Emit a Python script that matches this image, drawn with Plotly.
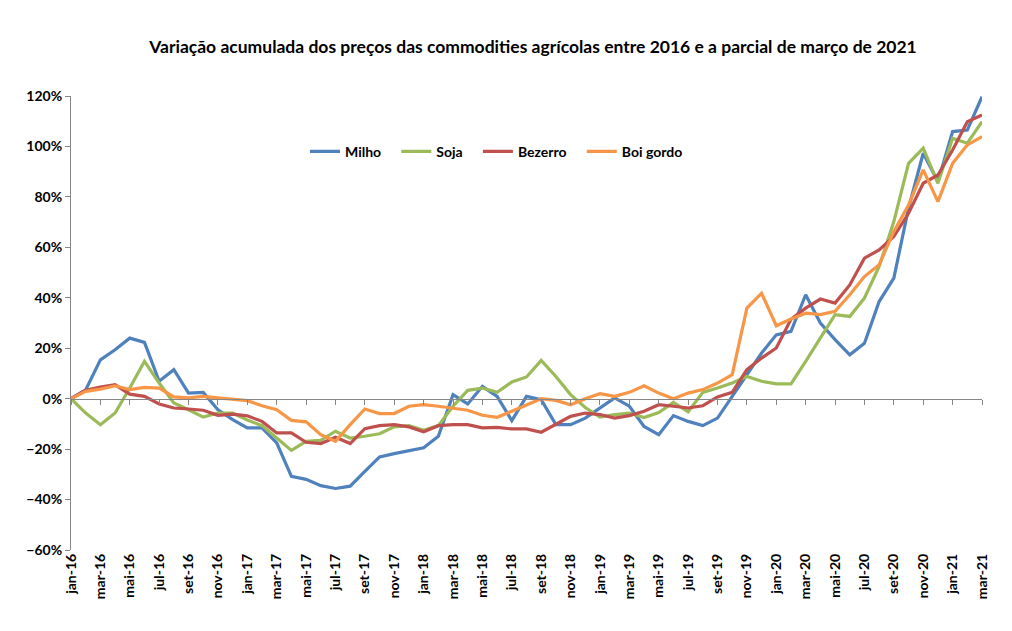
import plotly.graph_objects as go

months = ["jan", "fev", "mar", "abr", "mai", "jun", "jul", "ago", "set", "out", "nov", "dez"]
categories = [f"{m}-{y}" for y in ["16", "17", "18", "19", "20", "21"] for m in months][:63]

milho = [0, 3.5, 15.4, 19.4, 24, 22.3, 6.9, 11.5, 2.2, 2.5, -4.4, -8.3,
         -11.6, -11.6, -17.5, -30.8, -32, -34.5, -35.6, -34.7, -28.8, -23.1, -21.8, -20.5,
         -19.5, -14.9, 1.6, -2.1, 4.9, 0.9, -8.7, 0.9, -0.4, -10.3, -10.3, -7.7,
         -3.7, 0.3, -3, -11, -14.3, -6.7, -9, -10.7, -7.7, 0.9, 9.5, 18.1,
         25.3, 26.7, 41.2, 30, 23.4, 17.4, 22, 38.5, 47.8, 75.5, 97.3, 86,
         105.9, 106.5, 119.7]
soja = [0, -5.7, -10.3, -5.7, 4.2, 14.8, 6.2, -1.7, -4.4, -7.3, -5.7, -5.7,
        -8.5, -10.7, -15.6, -20.5, -16.9, -16.5, -12.9, -15.6, -14.9, -13.9, -11.2, -10.7,
        -12.5, -10.7, -3, 3.3, 4.2, 2.5, 6.6, 8.6, 15.2, 8.8, 1.6, -3.5,
        -7.3, -6.3, -5.7, -7.5, -5.5, -1.5, -5.2, 2.5, 4.2, 6.2, 8.8, 6.9,
        5.9, 5.9, 14.8, 24, 33.3, 32.6, 39.9, 52.4, 70.2, 93.3, 99.3, 85.4,
        103.2, 101.3, 109.8]
bezerro = [0, 3.3, 4.6, 5.5, 1.8, 0.9, -2.1, -3.7, -4.1, -4.6, -6.6, -6.1,
           -6.8, -9, -13.6, -13.6, -17.3, -17.8, -15.3, -17.8, -11.9, -10.7, -10.3, -11.2,
           -13.1, -10.7, -10.3, -10.3, -11.6, -11.4, -12, -12, -13.3, -10.3, -7, -5.7,
           -6.3, -7.7, -6.7, -5, -2.4, -3, -3.7, -2.8, 0.7, 2.5, 11.5, 16.1,
           20.1, 31.5, 35.9, 39.5, 37.9, 45.1, 55.7, 59, 64.3, 73.5, 85.4, 88.7,
           98.6, 109.8, 112.5]
boi_gordo = [0, 2.9, 3.8, 5.1, 3.6, 4.5, 4.2, 0.7, 0.3, 0.9, 0.3, -0.1,
             -0.8, -2.8, -4.4, -8.6, -9.2, -14.3, -16.9, -10.3, -4.1, -5.9, -5.9, -3,
             -2.4, -3, -3.7, -4.6, -6.6, -7.4, -5, -2.4, 0, -0.7, -2.4, 0,
             2, 0.9, 2.5, 5.1, 2.2, 0, 2.2, 3.6, 6.2, 9.5, 35.9, 41.8,
             28.9, 31.6, 33.9, 33.3, 34.6, 41.2, 48.4, 53.1, 66.3, 76.8, 90.7, 78.1,
             93.3, 100.6, 103.9]

series = [("Milho", milho, "#4F81BD"), ("Soja", soja, "#9BBB59"),
          ("Bezerro", bezerro, "#C0504D"), ("Boi gordo", boi_gordo, "#F79646")]

y_min, y_max = -60, 120
font_family = "Lato, 'Open Sans', sans-serif"
pad = "\u00a0\u00a0\u00a0"

fig = go.Figure()
for i, (name, vals, color) in enumerate(series):
    label = name + (pad if i < len(series) - 1 else "")
    fig.add_trace(go.Scatter(x=categories, y=[v / 100 for v in vals], name=label,
                             mode="lines", line=dict(color=color, width=3.2),
                             hovertemplate=name + ": %{y:.1%}<extra></extra>"))

# helper trace for the axis drawn along 0%
fig.add_trace(go.Scatter(x=categories, y=[None] * len(categories), xaxis="x2",
                         showlegend=False, hoverinfo="skip", mode="lines"))

tickcats = categories[::2]

fig.update_layout(
    width=1012, height=631,
    paper_bgcolor="white", plot_bgcolor="white",
    margin=dict(l=71, r=30, t=96, b=81, autoexpand=False),
    title=dict(text="Variação acumulada dos preços das commodities agrícolas entre 2016 e a parcial de março de 2021",
               x=533 / 1012, xanchor="center", xref="container",
               y=1 - 47 / 631, yanchor="middle", yref="container",
               font=dict(family=font_family, size=17.5, color="black", weight="bold")),
    legend=dict(orientation="h", x=(305 - 71) / 911, xanchor="left", y=0.877, yanchor="middle",
                font=dict(family=font_family, size=14, color="black", weight="bold"),
                bgcolor="rgba(0,0,0,0)", itemwidth=30, tracegroupgap=0),
    xaxis=dict(type="category", categoryorder="array", categoryarray=categories,
               range=[0, len(categories) - 1], showline=False, ticks="",
               tickmode="array", tickvals=tickcats, ticktext=tickcats, tickangle=-90,
               showgrid=False, zeroline=False, automargin=False,
               tickfont=dict(family=font_family, size=14, color="black", weight="bold")),
    xaxis2=dict(type="category", categoryorder="array", categoryarray=categories,
                matches="x", overlaying="x", anchor="free",
                position=(0 - y_min) / (y_max - y_min),
                showline=True, linecolor="#868686", linewidth=1,
                ticks="outside", ticklen=5, tickcolor="#868686",
                tickmode="array", tickvals=tickcats, showticklabels=False,
                showgrid=False, zeroline=False, automargin=False),
    yaxis=dict(range=[y_min / 100, y_max / 100], dtick=0.2, tickformat=".0%",
               showline=True, linecolor="#868686", linewidth=1,
               ticks="outside", ticklen=5, tickcolor="#868686",
               showgrid=False, zeroline=False, automargin=False,
               tickfont=dict(family=font_family, size=14, color="black", weight="bold")),
    hovermode="x unified",
)

fig.write_html("out.html", config={"displayModeBar": False},
               post_script="document.body.style.margin='0';document.body.style.padding='0';")
